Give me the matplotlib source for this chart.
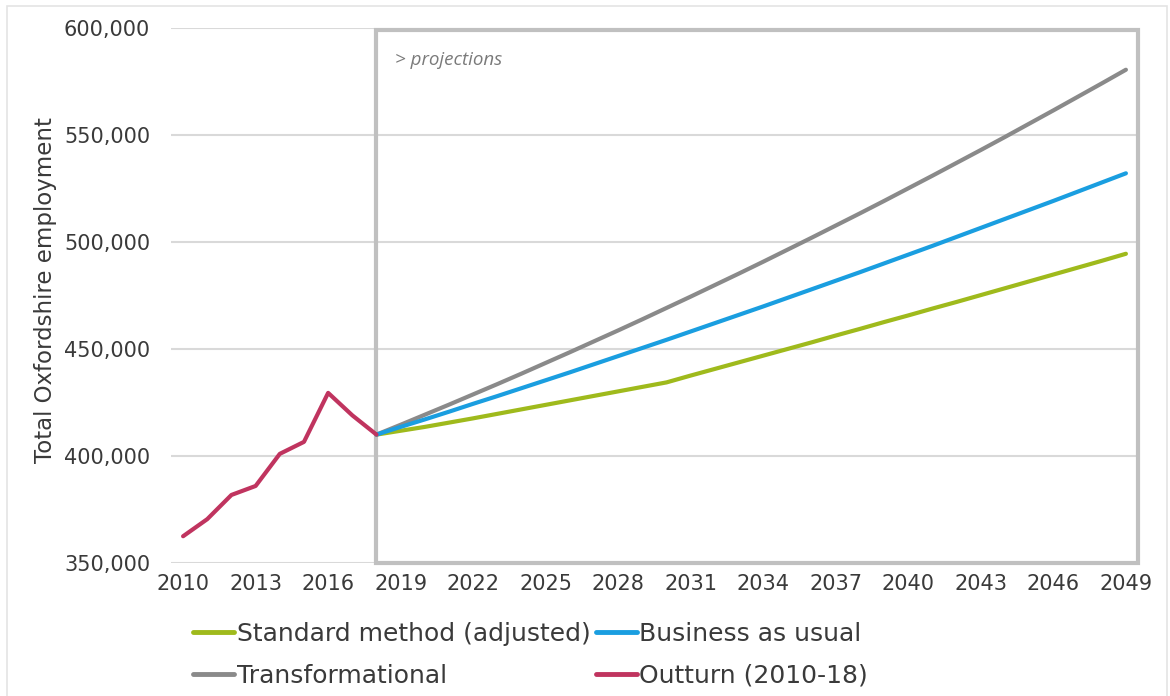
import numpy as np
import matplotlib.pyplot as plt
from matplotlib.patches import Rectangle
from matplotlib.ticker import FuncFormatter

# outturn 2010-18 (employment, thousands)
years_out = list(range(2010, 2019))
outturn = [362.5, 370.5, 381.8, 386.0, 401.0, 406.6, 429.5, 419.0, 410.0]

# projections 2018-49 (thousands)
years_proj = list(range(2018, 2050))
standard = [410.0, 411.8, 413.6, 415.6, 417.6, 419.7, 421.8, 423.9, 426.0, 428.1,
            430.2, 432.3, 434.4, 437.6, 440.7, 443.8, 446.9, 450.0, 453.1, 456.3,
            459.4, 462.6, 465.7, 468.9, 472.0, 475.2, 478.4, 481.6, 484.8, 488.0,
            491.2, 494.5]
business = [410.0, 413.6, 417.1, 420.7, 424.4, 428.0, 431.7, 435.4, 439.1, 442.9,
            446.7, 450.5, 454.3, 458.2, 462.1, 466.0, 469.9, 473.9, 477.9, 481.9,
            485.9, 490.0, 494.1, 498.2, 502.4, 506.6, 510.8, 515.0, 519.2, 523.5,
            527.8, 532.1]
transform = [410.0, 414.6, 419.3, 424.0, 428.8, 433.6, 438.5, 443.5, 448.5, 453.6,
             458.7, 463.9, 469.2, 474.5, 479.9, 485.3, 490.8, 496.4, 502.0, 507.7,
             513.4, 519.2, 525.1, 531.0, 537.0, 543.0, 549.1, 555.3, 561.5, 567.8,
             574.1, 580.5]

xticks = list(range(2010, 2050, 3))
yticks = [350, 400, 450, 500, 550, 600]

c_green = '#9fba1c'
c_blue = '#1a9ee0'
c_grey = '#8a8a8a'
c_red = '#c0345f'
txt = '#3a3a3a'

plt.rcParams['font.family'] = ['DejaVu Sans']

fig = plt.figure(figsize=(11.7, 6.96), dpi=100)
ax = fig.add_axes([171/1170, 1-563/696, (1138-171)/1170, (563-28)/696])

# chart area border
fig.patches.append(Rectangle((7/1170, -0.05), (1167-7)/1170, 1.05 - 6/696,
                             transform=fig.transFigure, fill=False,
                             edgecolor='#e4e4e4', linewidth=1.2))

ax.plot(years_proj, standard, color=c_green, lw=3, label='Standard method (adjusted)',
        solid_capstyle='round', zorder=3)
ax.plot(years_proj, transform, color=c_grey, lw=3, label='Transformational',
        solid_capstyle='round', zorder=3)
ax.plot(years_proj, business, color=c_blue, lw=3, label='Business as usual',
        solid_capstyle='round', zorder=3)
ax.plot(years_out, outturn, color=c_red, lw=3, label='Outturn (2010-18)',
        solid_capstyle='round', zorder=3)

ax.set_xlim(2009.5, 2049.5)
ax.set_ylim(350, 600)
ax.set_xticks(xticks)
ax.set_yticks(yticks)
ax.yaxis.set_major_formatter(FuncFormatter(lambda v, p: '{:,}'.format(int(v * 1000))))
ax.tick_params(length=0, labelsize=15, colors=txt, pad=8)
ax.tick_params(axis='y', pad=15)
for s in ax.spines.values():
    s.set_visible(False)
ax.yaxis.grid(True, color='#d9d9d9', lw=1.5)
ax.set_axisbelow(True)

ax.set_ylabel('Total Oxfordshire employment', fontsize=16.5, color=txt)
ax.yaxis.set_label_coords(-0.118, 0.51)

# projections box
ax.add_patch(Rectangle((2018, 350), 2049.5 - 2018, 249, fill=False,
                       edgecolor='#c0c0c0', linewidth=3, zorder=2, clip_on=False))
ax.text(2018.75, 585, '> projections', fontsize=13.5, style='italic',
        family='Open Sans', color='#7a7a7a', va='center')

leg = fig.legend(loc='upper left', bbox_to_anchor=(193/1170, 1-622/696), ncol=2,
                 frameon=False, fontsize=18, handlelength=1.65, handletextpad=0.1,
                 columnspacing=0.2, labelspacing=0.72, borderpad=0, borderaxespad=0)
for t in leg.get_texts():
    t.set_color(txt)
for l in leg.get_lines():
    l.set_linewidth(3.5)

fig.savefig('out.png', dpi=100)
